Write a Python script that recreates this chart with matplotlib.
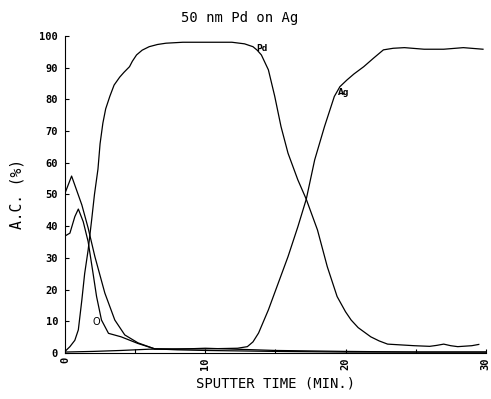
import matplotlib
matplotlib.use("Agg")
import matplotlib.pyplot as plt
from matplotlib.ticker import MultipleLocator

# AES depth profile, 50 nm Pd on Ag
pd_t = [0, 0.35, 0.7, 0.95, 1.2, 1.4, 1.65, 1.9, 2.1, 2.35, 2.5, 2.7, 2.9, 3.2, 3.5, 3.9,
        4.2, 4.6, 4.8, 5.1, 5.5, 6.0, 6.6, 7.2, 8.4, 10, 11.9, 12.8, 13.4, 13.7, 14.0,
        14.5, 14.95, 15.4, 15.9, 16.6, 17.2, 18.0, 18.7, 19.4, 20.0, 20.4, 20.9, 21.8,
        22.4, 23.0, 24.9, 26.0, 26.5, 27.0, 27.5, 28.0, 29.0, 29.5]
pd_v = [0.5, 2, 4, 7.3, 16.7, 25, 32.5, 42, 50, 58, 66, 72.5, 77, 81, 84.5, 87,
        88.5, 90.3, 92, 94, 95.5, 96.6, 97.3, 97.7, 98, 98, 98, 97.5, 96.6, 95.5, 94,
        89.3, 81, 71.4, 63, 54.6, 48.5, 38.8, 27.2, 17.8, 13, 10.4, 8, 5.1,
        3.8, 2.8, 2.3, 2.1, 2.4, 2.8, 2.3, 2.0, 2.3, 2.7]

ag_t = [0, 2, 4, 6, 8, 10, 12.3, 13.0, 13.4, 13.8, 14.5, 15.2, 15.9, 16.6, 17.2, 17.8,
        18.5, 19.2, 19.6, 20.1, 20.6, 21.3, 22.0, 22.7, 23.4, 24.2, 25.6, 27.0, 28.4, 29.8]
ag_v = [0.3, 0.5, 0.8, 1.2, 1.3, 1.3, 1.5, 2, 3.5, 6.3, 13.6, 22, 30.4, 39.8, 48.5, 60.9,
        71.4, 80.9, 84, 86.1, 88, 90.3, 93, 95.6, 96.1, 96.3, 95.8, 95.8, 96.3, 95.8]

o_t = [0, 0.35, 0.7, 0.95, 1.3, 1.65, 2.0, 2.25, 2.6, 3.1, 4.0, 5.2, 6.4, 8, 10, 15, 20, 25, 30]
o_v = [36.9, 37.8, 43, 45.4, 41.4, 35.1, 25.1, 17.8, 10.4, 6.2, 5.1, 3.0, 1.3, 1.0, 0.8,
       0.5, 0.3, 0.3, 0.3]

c_t = [0, 0.47, 1.2, 1.65, 2.13, 2.84, 3.55, 4.26, 5.2, 6.4, 8, 10, 15, 20, 25, 30]
c_v = [50.4, 55.8, 46.7, 39.4, 30.4, 18.9, 10.4, 5.7, 3.2, 1.3, 1.2, 1.5, 0.8, 0.5, 0.3, 0.3]

# curve labels: (text, x, y)
labels = [("Pd", 14.0, 95.9), ("Ag", 19.9, 82.0), ("O", 2.2, 9.8)]

mono = "DejaVu Sans Mono"

fig = plt.figure(figsize=(4.91, 3.99), dpi=100)
ax = fig.add_axes([0.1324, 0.1153, 0.857, 0.7947])

for t, v in [(pd_t, pd_v), (ag_t, ag_v), (o_t, o_v), (c_t, c_v)]:
    ax.plot(t, v, color="black", lw=0.9)

for txt, x, y in labels:
    if txt == "O":
        ax.text(x, y, txt, fontsize=7, ha="center", va="center")
    else:
        ax.text(x, y, txt, fontsize=5.5, fontweight="bold", ha="center", va="center")

ax.set_xlim(0, 30)
ax.set_ylim(0, 100)
ax.spines["top"].set_visible(False)
ax.spines["right"].set_visible(False)
ax.xaxis.set_major_locator(MultipleLocator(10))
ax.xaxis.set_minor_locator(MultipleLocator(5))
ax.yaxis.set_major_locator(MultipleLocator(10))
ax.tick_params(which="both", direction="in", length=3, width=0.8)
ax.tick_params(axis="x", labelrotation=90, pad=3)
ax.tick_params(axis="y", pad=5)
for lab in ax.get_xticklabels() + ax.get_yticklabels():
    lab.set_fontfamily(mono)
    lab.set_fontsize(7.5)
    lab.set_fontweight("bold")

ax.set_xlabel("SPUTTER TIME (MIN.)", fontsize=10, fontfamily=mono, labelpad=5)
ax.set_ylabel("A.C. (%)", fontsize=10.5, fontfamily=mono, labelpad=11)
fig.text(240 / 491, 1 - 18 / 399, "50 nm Pd on Ag", fontsize=10, fontfamily=mono,
         ha="center", va="center")

fig.savefig("out.png", dpi=100)
